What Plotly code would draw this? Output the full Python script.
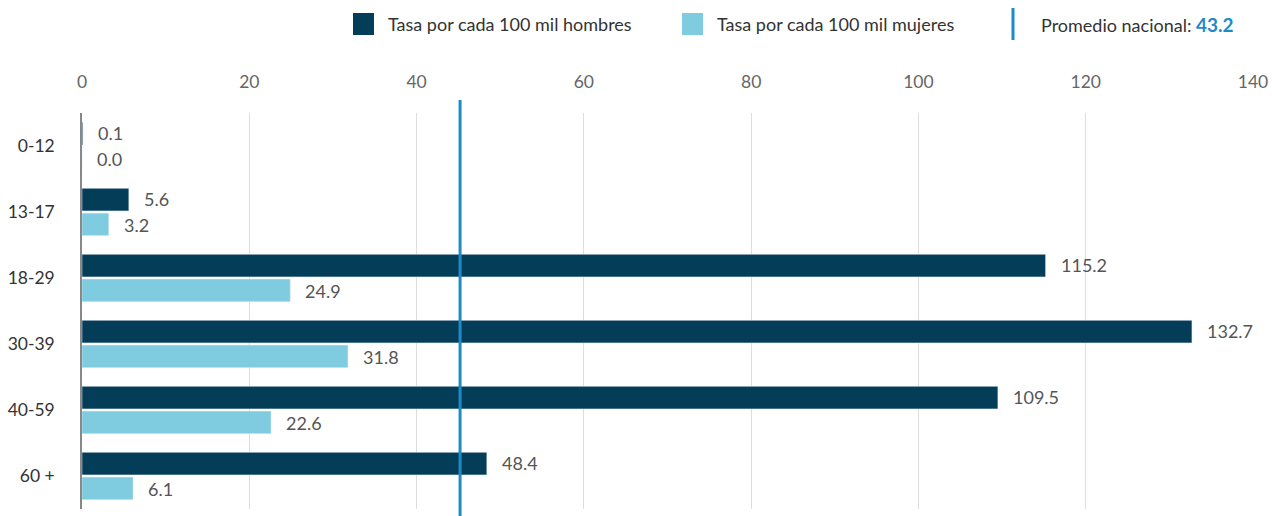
import plotly.graph_objects as go

categorias = ["0-12", "13-17", "18-29", "30-39", "40-59", "60 +"]
hombres = [0.1, 5.6, 115.2, 132.7, 109.5, 48.4]
mujeres = [0.0, 3.2, 24.9, 31.8, 22.6, 6.1]
promedio_nacional = 43.2
posicion_linea = 45.2
ticks_x = [0, 20, 40, 60, 80, 100, 120, 140]

C_H = "#033d57"
C_M = "#7fcce0"
C_LINE = "#1f8ac9"
FONT = "Lato, 'Noto Sans', sans-serif"

W, H = 1272, 516
ml, mr, mt, mb = 82, 19, 113, 7
pw, ph = W - ml - mr, H - mt - mb


def px(xp):
    return (xp - ml) / pw


def py(yp):
    return (H - mb - yp) / ph


fig = go.Figure()
fig.add_trace(go.Bar(y=categorias, x=hombres, orientation="h", marker_color=C_H,
                     name="Tasa por cada 100 mil hombres", showlegend=False, hoverinfo="x+y"))
fig.add_trace(go.Bar(y=categorias, x=mujeres, orientation="h", marker_color=C_M,
                     name="Tasa por cada 100 mil mujeres", showlegend=False, hoverinfo="x+y"))

ann = []
label_font = dict(family=FONT, size=18, color="#555555")
for i, (h, m) in enumerate(zip(hombres, mujeres)):
    ann.append(dict(x=h, y=i - 0.19, xref="x", yref="y", text=f"{h:.1f}", showarrow=False,
                    xanchor="left", yanchor="middle", xshift=13, font=label_font))
    ann.append(dict(x=m, y=i + 0.19, xref="x", yref="y", text=f"{m:.1f}", showarrow=False,
                    xanchor="left", yanchor="middle", xshift=13, font=label_font))

legend_font = dict(family=FONT, size=18, color="#333333")
ann.append(dict(x=px(386), y=py(24), xref="paper", yref="paper", text="Tasa por cada 100 mil hombres",
                showarrow=False, xanchor="left", yanchor="middle", font=legend_font))
ann.append(dict(x=px(715), y=py(24), xref="paper", yref="paper", text="Tasa por cada 100 mil mujeres",
                showarrow=False, xanchor="left", yanchor="middle", font=legend_font))
ann.append(dict(x=px(1039), y=py(25), xref="paper", yref="paper",
                text=f"Promedio nacional: <b><span style='color:{C_LINE};font-size:19px'>{promedio_nacional}</span></b>",
                showarrow=False, xanchor="left", yanchor="middle", font=legend_font))

shapes = [
    dict(type="rect", xref="paper", yref="paper", x0=px(353), x1=px(374), y0=py(35), y1=py(13),
         fillcolor=C_H, line_width=0),
    dict(type="rect", xref="paper", yref="paper", x0=px(682), x1=px(703), y0=py(35), y1=py(13),
         fillcolor=C_M, line_width=0),
    dict(type="line", xref="paper", yref="paper", x0=px(1013), x1=px(1013), y0=py(40), y1=py(8),
         line=dict(color=C_LINE, width=3)),
    dict(type="line", xref="x", yref="paper", x0=posicion_linea, x1=posicion_linea,
         y0=py(516), y1=py(100), line=dict(color=C_LINE, width=3)),
]

fig.update_layout(
    width=W, height=H,
    margin=dict(l=ml, r=mr, t=mt, b=mb),
    barmode="group", bargap=0.25, bargroupgap=0.09,
    plot_bgcolor="white", paper_bgcolor="white",
    font=dict(family=FONT),
    annotations=ann, shapes=shapes,
    xaxis=dict(side="top", range=[0, 140], tickvals=ticks_x, showgrid=True, gridcolor="#dddddd",
               gridwidth=1, zeroline=False, showline=False, automargin=False,
               tickfont=dict(family=FONT, size=17.5, color="#666666"), ticklabelstandoff=21),
    yaxis=dict(autorange="reversed", categoryorder="array", categoryarray=categorias,
               showline=True, linecolor="#888888", linewidth=1.5, showgrid=False, automargin=False,
               tickfont=dict(family=FONT, size=17.5, color="#333333"), ticklabelstandoff=22),
    hovermode="closest",
)

fig.write_html("out.html", config={"displayModeBar": False},
               post_script="document.body.style.margin='0';")
